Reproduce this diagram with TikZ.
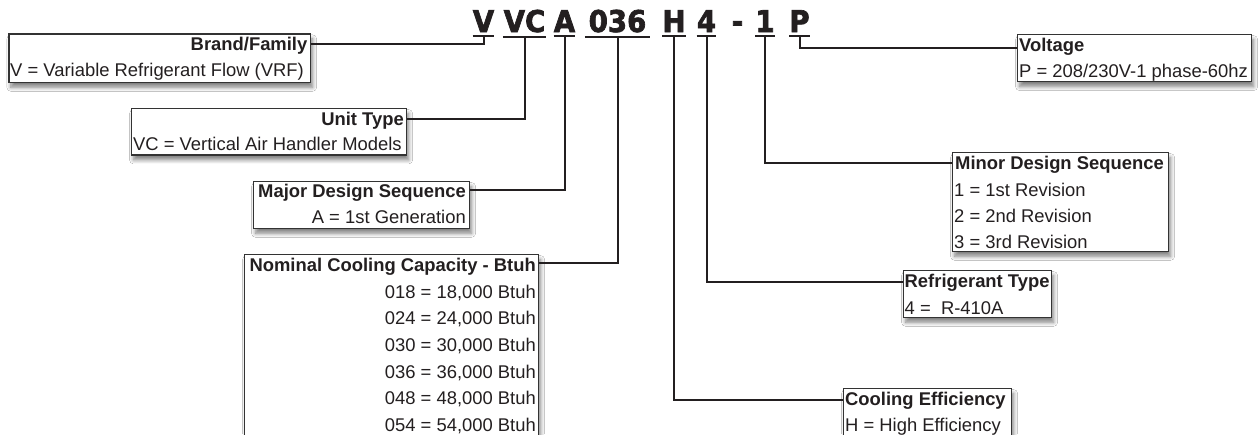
\documentclass[tikz,border=0pt]{standalone}
\usepackage{fontspec}
\setmainfont{Liberation Sans}
\newfontfamily\codefont[FakeStretch=0.92,FakeBold=2.2]{DejaVu Sans}
\usetikzlibrary{shadows.blur}
\definecolor{boxgray}{HTML}{333333}
\definecolor{txtcol}{HTML}{231F20}
\definecolor{codecol}{HTML}{231F20}
\begin{document}
\begin{tikzpicture}[x=1pt,y=-1pt,
  box/.style={draw=boxgray, line width=1.2pt, fill=white, inner sep=0pt, anchor=north west,
    blur shadow={shadow xshift=2pt, shadow yshift=-5pt, shadow blur radius=4pt, shadow blur steps=8, shadow opacity=50}},
  ttl/.style={inner sep=0pt, font=\fontsize{18.4}{22}\selectfont\bfseries, text=txtcol},
  txt/.style={inner sep=0pt, font=\fontsize{18.4}{22}\selectfont, text=txtcol},
  code/.style={inner sep=0pt, anchor=base, font=\codefont\bfseries\fontsize{30}{32}\selectfont, text=codecol},
  conn/.style={line width=2pt, draw=txtcol},
  uline/.style={line width=2pt, draw=txtcol},
]
\clip (0,0) rectangle (1259,434);
\fill[white] (0,0) rectangle (1259,434);

% code letters
\node[code, minimum width=21pt] (cV) at (483.5,32) {V};
\node[code, minimum width=43pt] (cVC) at (524.5,32) {VC};
\node[code, minimum width=21pt] (cA) at (564.5,32) {A};
\node[code, minimum width=65pt] (c036) at (617.5,32) {036};
\node[code, minimum width=20pt] (cH) at (674,32) {H};
\node[code, minimum width=19pt] (c4) at (706.5,32) {4};
\node[code] (cdash) at (737.5,32) {-};
\node[code, minimum width=12pt] (c1) at (765,32) {1};
\node[code, minimum width=19pt] (cP) at (799.5,32) {P};

\foreach \n in {cV,cVC,cA,c036,cH,c4,c1,cP}
  \draw[uline] ([yshift=-4pt]\n.south west) -- ([yshift=-4pt]\n.south east);

% boxes
\node[box, minimum width=301.7pt, minimum height=48.4pt] (brand) at (8.3,33.3) {};
\node[box, minimum width=275pt, minimum height=46.3pt] (unit) at (131,108) {};
\node[box, minimum width=216pt, minimum height=46.7pt] (major) at (253,181) {};
\node[box, minimum width=294pt, minimum height=200pt] (nom) at (244,254) {};
\node[box, minimum width=234pt, minimum height=47pt] (volt) at (1017,34) {};
\node[box, minimum width=216pt, minimum height=98.7pt] (minor) at (952,152) {};
\node[box, minimum width=148pt, minimum height=46.7pt] (refr) at (903,270) {};
\node[box, minimum width=168pt, minimum height=70pt] (cool) at (843,388) {};

% texts
\node[ttl, anchor=base east] (brandT) at (307.5,50.7) {Brand/Family};
\node[txt, anchor=base west] (brandB) at (10,76) {V = Variable Refrigerant Flow (VRF)};

\node[ttl, anchor=base east] (unitT) at (404,125.7) {Unit Type};
\node[txt, anchor=base west] (unitB) at (133,150) {VC = Vertical Air Handler Models};

\node[ttl, anchor=base east] (majorT) at (466,197.3) {Major Design Sequence};
\node[txt, anchor=base east] (majorB) at (466,223.5) {A = 1st Generation};

\node[ttl, anchor=base east] (nomT) at (536,271) {Nominal Cooling Capacity - Btuh};
\node[txt, anchor=base east] (nom1) at (536,298) {018 = 18,000 Btuh};
\node[txt, anchor=base east] (nom2) at (536,324.7) {024 = 24,000 Btuh};
\node[txt, anchor=base east] (nom3) at (536,351.4) {030 = 30,000 Btuh};
\node[txt, anchor=base east] (nom4) at (536,378.1) {036 = 36,000 Btuh};
\node[txt, anchor=base east] (nom5) at (536,404.8) {048 = 48,000 Btuh};
\node[txt, anchor=base east] (nom6) at (536,431.5) {054 = 54,000 Btuh};

\node[ttl, anchor=base west] (voltT) at (1019,51) {Voltage};
\node[txt, anchor=base west] (voltB) at (1019,77.3) {P = 208/230V-1 phase-60hz};

\node[ttl, anchor=base west] (minorT) at (955,169) {Minor Design Sequence};
\node[txt, anchor=base west] (minor1) at (954,196.3) {1 = 1st Revision};
\node[txt, anchor=base west] (minor2) at (954,222.7) {2 = 2nd Revision};
\node[txt, anchor=base west] (minor3) at (954,248.8) {3 = 3rd Revision};

\node[ttl, anchor=base west] (refrT) at (904.5,287.3) {Refrigerant Type};
\node[txt, anchor=base west] (refrB) at (904.5,314) {4 =\ \ R-410A};

\node[ttl, anchor=base west] (coolT) at (845,405) {Cooling Efficiency};
\node[txt, anchor=base west] (coolB) at (845,431.7) {H = High Efficiency};

% connectors
\draw[conn] ([yshift=-4pt]cV.south) |- ([yshift=-11pt]brand.north east);
\draw[conn] ([yshift=-4pt]cVC.south) |- ([yshift=-11pt]unit.north east);
\draw[conn] ([yshift=-4pt]cA.south) |- ([yshift=-9pt]major.north east);
\draw[conn] ([yshift=-4pt]c036.south) |- ([yshift=-9pt]nom.north east);
\draw[conn] ([yshift=-4pt]cH.south) |- ([yshift=-12pt]cool.north west);
\draw[conn] ([yshift=-4pt]c4.south) |- ([yshift=-11.7pt]refr.north west);
\draw[conn] ([yshift=-4pt]c1.south) |- ([yshift=-11pt]minor.north west);
\draw[conn] ([yshift=-4pt]cP.south) |- ([yshift=-14pt]volt.north west);
\end{tikzpicture}
\end{document}
